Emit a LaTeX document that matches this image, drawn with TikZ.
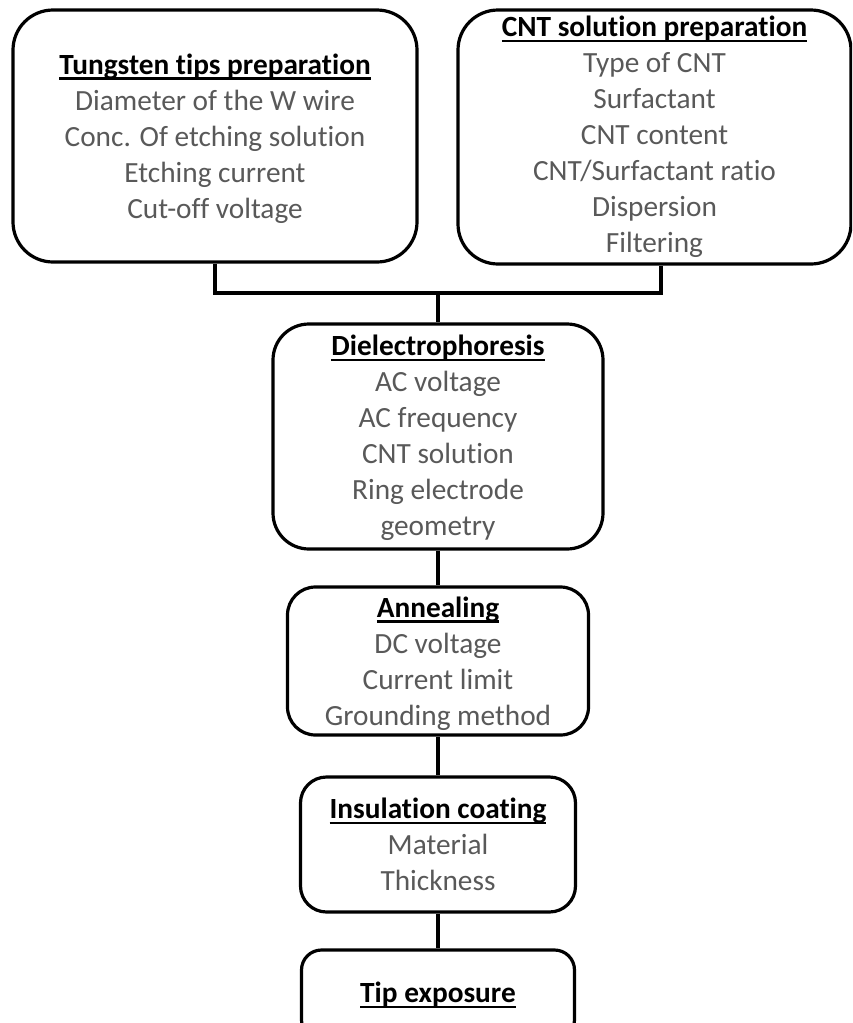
\documentclass[tikz,border=0pt]{standalone}
\usepackage{fontspec}
\setmainfont{Carlito}[Ligatures={NoCommon,NoRequired,NoContextual}, RawFeature={-liga;-clig;-calt;-dlig}]
\definecolor{txtgray}{RGB}{89,89,89}
\newcommand{\hd}[1]{{\color{black}\setbox0\hbox{\bfseries #1}\rlap{\rule[-5.5pt]{\wd0}{2.5pt}}\box0}}
\tikzset{
  stepbox/.style={draw=black, line width=3.2pt, align=center, inner sep=0pt,
    text=txtgray, font=\fontsize{29.3}{36}\selectfont},
  link/.style={draw=black, line width=3.2pt}
}
\begin{document}
\begin{tikzpicture}[x=1pt,y=-1pt]
\useasboundingbox (0,0) rectangle (852,1023);
\clip (0,0) rectangle (852,1023);
\node[stepbox, rounded corners=40pt, minimum width=404pt, minimum height=252pt] (b1) at (215,136)
  {\rule{0pt}{26pt}\hd{Tungsten tips preparation}\\Diameter of the W wire\\Conc. Of etching solution\\Etching current\\Cut-off voltage};
\node[stepbox, rounded corners=40pt, minimum width=393pt, minimum height=254pt] (b2) at (654.5,137)
  {\hd{CNT solution preparation}\\Type of CNT\\Surfactant\\CNT content\\CNT/Surfactant ratio\\Dispersion\\Filtering};
\node[stepbox, rounded corners=36pt, minimum width=330pt, minimum height=225pt] (b3) at (438,436.5)
  {\rule{0pt}{24pt}\hd{Dielectrophoresis}\\AC voltage\\AC frequency\\CNT solution\\Ring electrode\\geometry};
\node[stepbox, rounded corners=28pt, minimum width=301pt, minimum height=148pt] (b4) at (438,661)
  {\rule{0pt}{26pt}\hd{Annealing}\\DC voltage\\Current limit\\Grounding method};
\node[stepbox, rounded corners=26pt, minimum width=275pt, minimum height=135pt] (b5) at (438,844.5)
  {\hd{Insulation coating}\\Material\\Thickness};
\node[stepbox, rounded corners=20pt, minimum width=273pt, minimum height=90pt] (b6) at (438,995)
  {\hd{Tip exposure}};
\coordinate (j) at (438,293);
\draw[link] (b1.south) |- (j) -| ([xshift=6.5pt]b2.south);
\draw[link] (j) -- (b3.north);
\draw[link] (b3.south) -- (b4.north);
\draw[link] (b4.south) -- (b5.north);
\draw[link] (b5.south) -- (b6.north);
\end{tikzpicture}
\end{document}
